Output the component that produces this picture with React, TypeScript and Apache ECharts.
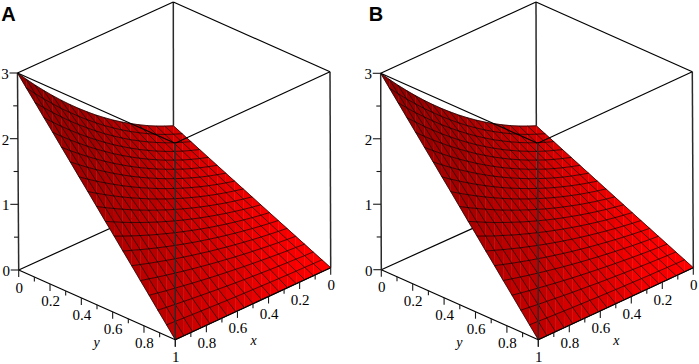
import React, { useEffect, useRef } from "react";
import * as echarts from "echarts";

const panelLetters = ["A", "B"];
// height of the surface along the y = 0 edge, for x = 0 .. 1 in 18 steps
const edgeHeights = [1.12, 1.175, 1.235, 1.301, 1.374, 1.452, 1.536, 1.625, 1.721, 1.822, 1.93, 2.043, 2.162, 2.287, 2.418, 2.555, 2.697, 2.846, 3.0];
// share of that height left at y = 0 .. 1 in 18 steps
const yFalloff = [1, 0.944, 0.889, 0.833, 0.778, 0.722, 0.667, 0.611, 0.556, 0.5, 0.444, 0.389, 0.333, 0.278, 0.222, 0.167, 0.111, 0.056, 0];
const gridSteps = [0, 0.0556, 0.1111, 0.1667, 0.2222, 0.2778, 0.3333, 0.3889, 0.4444, 0.5, 0.5556, 0.6111, 0.6667, 0.7222, 0.7778, 0.8333, 0.8889, 0.9444, 1];
const horizontalTicks = [0, 0.1, 0.2, 0.3, 0.4, 0.5, 0.6, 0.7, 0.8, 0.9, 1];
const horizontalLabels = ["0", "", "0.2", "", "0.4", "", "0.6", "", "0.8", "", "1"];
const zTicks = [0, 0.5, 1, 1.5, 2, 2.5, 3];
const zLabels = ["0", "", "1", "", "2", "", "3"];

const N = gridSteps.length - 1;
type P = [number, number];
// Box corners on the page: [x index][y index] at the bottom and the top
const CORNERS: { bottom: P[][]; top: P[][]; letter: P }[] = [
  {
    bottom: [[[173.5, 199.5], [330.7, 267.7]], [[18.7, 270], [175.3, 339.7]]],
    top: [[[173.3, 2], [330, 71.7]], [[17.5, 73], [175, 143.3]]],
    letter: [8.5, 13.5],
  },
  {
    bottom: [[[536.5, 199.5], [693.3, 267.7]], [[381.3, 269.7], [538.3, 339.7]]],
    top: [[[536, 2], [692.3, 71.7]], [[380.7, 73.3], [537.7, 143.3]]],
    letter: [376, 13.5],
  },
];

const lerp = (a: number, b: number, t: number) => a + (b - a) * t;
function project(panel: number, x: number, y: number, z: number): P {
  const c = CORNERS[panel];
  const level = z / 3;
  const at = (k: 0 | 1) => {
    const b = lerp(lerp(c.bottom[0][0][k], c.bottom[0][1][k], y), lerp(c.bottom[1][0][k], c.bottom[1][1][k], y), x);
    const t = lerp(lerp(c.top[0][0][k], c.top[0][1][k], y), lerp(c.top[1][0][k], c.top[1][1][k], y), x);
    return lerp(b, t, level);
  };
  return [at(0), at(1)];
}

const height = (i: number, j: number) => edgeHeights[i] * yFalloff[j];
const surfacePoint = (p: number, i: number, j: number) => project(p, gridSteps[i], gridSteps[j], height(i, j));

function shade(i: number, j: number, tri: number) {
  const d = 1 / N;
  const zx = tri === 0 ? height(i + 1, j) - height(i, j) : height(i + 1, j + 1) - height(i, j + 1);
  const zy = tri === 0 ? height(i + 1, j + 1) - height(i + 1, j) : height(i, j + 1) - height(i, j);
  const nx = -zx / d, ny = -zy / d;
  const len = Math.hypot(nx, ny, 1);
  const red = 138 + 53 * (nx / len) + 190 * (1 / len) - (tri === 0 ? 6 : 0);
  return `rgb(${Math.max(110, Math.min(255, Math.round(red)))},0,0)`;
}

const panels = [0, 1];
const cellData: number[][] = [];
panels.forEach((p) => {
  for (let i = 0; i < N; i++) for (let j = 0; j < N; j++) for (let t = 0; t < 2; t++) cellData.push([p, i, j, t]);
});
const meshData: number[][] = [];
panels.forEach((p) => {
  for (let k = 0; k <= N; k++) {
    meshData.push([p, 0, k]);
    meshData.push([p, 1, k]);
  }
});
type Seg = [number, number, number, number, number, number, number, number];
// [panel, x0, y0, z0, x1, y1, z1, kind]
const backEdges: Seg[] = [];
const frontEdges: Seg[] = [];
panels.forEach((p) => {
  backEdges.push([p, 0, 0, 3, 0, 0, 1.12, 1]); // back vertical down to the surface
  backEdges.push([p, 1, 0, 3, 0, 0, 3, 0]);
  backEdges.push([p, 0, 0, 3, 0, 1, 3, 0]);
  backEdges.push([p, 1, 0, 0, 0, 0, 0, 0]);
  backEdges.push([p, 0, 1, 3, 0, 1, 0, 1]);
  backEdges.push([p, 1, 0, 3, 1, 0, 0, 1]);
  frontEdges.push([p, 1, 0, 3, 1, 1, 3, 0]);
  frontEdges.push([p, 0, 1, 3, 1, 1, 3, 0]);
  frontEdges.push([p, 1, 1, 3, 1, 1, 0, 1]);
  frontEdges.push([p, 1, 0, 0, 1, 1, 0, 0]);
  frontEdges.push([p, 0, 1, 0, 1, 1, 0, 0]);
});

const textItems: { at: P; text: string; font: string }[] = [];
const serif = '15px "Liberation Serif"';
const italic = 'italic 14px "Liberation Serif"';
const tickSegs: { from: P; to: P }[] = [];
panels.forEach((p) => {
  horizontalTicks.forEach((t, n) => {
    const len = n % 2 === 0 ? 7 : 4.5;
    const yAxis = project(p, 1, t, 0);
    const xAxis = project(p, t, 1, 0);
    tickSegs.push({ from: yAxis, to: [yAxis[0], yAxis[1] + len] });
    tickSegs.push({ from: xAxis, to: [xAxis[0], xAxis[1] + len] });
    const label = horizontalLabels[n];
    if (label) {
      textItems.push({ at: [yAxis[0] + 0.5, yAxis[1] + 17.5], text: label, font: serif });
      if (n !== horizontalTicks.length - 1) textItems.push({ at: [xAxis[0] + 0.5, xAxis[1] + 17.5], text: label, font: serif });
    }
  });
  zTicks.forEach((z, n) => {
    const pt = project(p, 1, 0, z);
    tickSegs.push({ from: [pt[0] - (n % 2 === 0 ? 8 : 4.5), pt[1]], to: pt });
    if (zLabels[n]) textItems.push({ at: [pt[0] - 12.5, pt[1] + 1], text: zLabels[n], font: serif });
  });
  const ya = project(p, 1, 0.5, 0);
  const xa = project(p, 0.5, 1, 0);
  textItems.push({ at: [ya[0] - 0.5, ya[1] + 37.5], text: "y", font: italic });
  textItems.push({ at: [xa[0] + 0.5, xa[1] + 37], text: "x", font: italic });
  textItems.push({ at: CORNERS[p].letter, text: panelLetters[p], font: 'bold 20px "Liberation Sans"' });
});

function edgeSeries(edges: Seg[], z: number) {
  return {
    type: "custom",
    coordinateSystem: "cartesian2d",
    clip: false,
    silent: true,
    z,
    data: edges.map((_, n) => [n]),
    renderItem: (params: any, api: any) => {
      const e = edges[api.value(0)];
      const a = api.coord(project(e[0], e[1], e[2], e[3]));
      const b = api.coord(project(e[0], e[4], e[5], e[6]));
      return {
        type: "line",
        shape: { x1: a[0], y1: a[1], x2: b[0], y2: b[1] },
        style: { stroke: e[7] ? "#2a2a2a" : "#000", lineWidth: e[7] ? 1.5 : 1.2 },
      };
    },
  };
}

export default function App() {
  const ref = useRef<HTMLDivElement>(null);
  useEffect(() => {
    const chart = echarts.init(ref.current!, undefined, { renderer: "svg" });
    chart.setOption({
      animation: false,
      backgroundColor: "#ffffff",
      grid: { left: 0, right: 0, top: 0, bottom: 0 },
      xAxis: { type: "value", min: 0, max: 699, show: false },
      yAxis: { type: "value", min: 0, max: 364, inverse: true, show: false },
      series: [
        edgeSeries(backEdges, 1),
        {
          type: "custom",
          coordinateSystem: "cartesian2d",
          clip: false,
          silent: true,
          z: 2,
          data: cellData,
          renderItem: (params: any, api: any) => {
            const p = api.value(0), i = api.value(1), j = api.value(2), t = api.value(3);
            const corners = t === 0 ? [[i, j], [i + 1, j], [i + 1, j + 1]] : [[i, j], [i + 1, j + 1], [i, j + 1]];
            const fill = shade(i, j, t);
            return {
              type: "polygon",
              shape: { points: corners.map(([a, b]) => api.coord(surfacePoint(p, a, b))) },
              style: { fill, stroke: fill, lineWidth: 0.5 },
            };
          },
        },
        {
          type: "custom",
          coordinateSystem: "cartesian2d",
          clip: false,
          silent: true,
          z: 3,
          data: meshData,
          renderItem: (params: any, api: any) => {
            const p = api.value(0), dir = api.value(1), k = api.value(2);
            const pts = gridSteps.map((_, n) => api.coord(dir === 0 ? surfacePoint(p, k, n) : surfacePoint(p, n, k)));
            return {
              type: "polyline",
              shape: { points: pts },
              style: { fill: "none", stroke: "rgba(0,0,0,0.68)", lineWidth: 1 },
            };
          },
        },
        edgeSeries(frontEdges, 4),
        {
          type: "custom",
          coordinateSystem: "cartesian2d",
          clip: false,
          silent: true,
          z: 5,
          data: tickSegs.map((_, n) => [n]),
          renderItem: (params: any, api: any) => {
            const s = tickSegs[api.value(0)];
            const a = api.coord(s.from), b = api.coord(s.to);
            return {
              type: "line",
              shape: { x1: a[0], y1: a[1], x2: b[0], y2: b[1] },
              style: { stroke: "#1a1a1a", lineWidth: 1.1 },
            };
          },
        },
        {
          type: "custom",
          coordinateSystem: "cartesian2d",
          clip: false,
          silent: true,
          z: 6,
          data: textItems.map((_, n) => [n]),
          renderItem: (params: any, api: any) => {
            const t = textItems[api.value(0)];
            const c = api.coord(t.at);
            return {
              type: "text",
              x: c[0],
              y: c[1],
              style: { text: t.text, font: t.font, fill: "#000", align: "center", verticalAlign: "middle" },
            };
          },
        },
      ],
    });
    return () => chart.dispose();
  }, []);
  return <div ref={ref} style={{ position: "absolute", left: 0, top: 0, width: 699, height: 364 }} />;
}
